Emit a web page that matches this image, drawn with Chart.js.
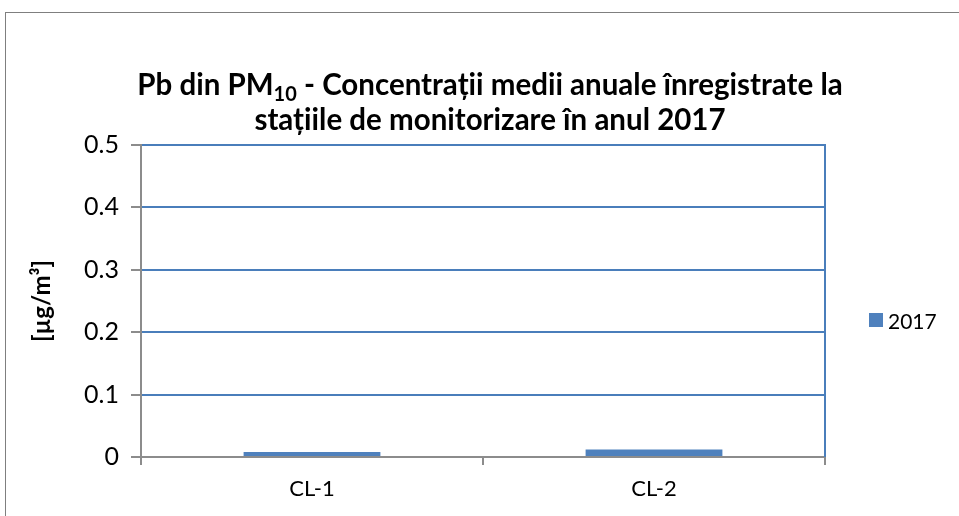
<!DOCTYPE html>
<html>
<head>
<meta charset="utf-8">
<script src="https://cdn.jsdelivr.net/npm/chart.js@4.4.1/dist/chart.umd.min.js"></script>
<style>
  html, body { margin: 0; padding: 0; background: #fff; }
  #wrap { position: relative; width: 959px; height: 516px; overflow: hidden; }
  #frame { position: absolute; left: 5px; top: 12px; width: 1000px; height: 600px; border: 1px solid #7f7f7f; box-sizing: border-box; }
  canvas { position: absolute; left: 0; top: 0; }
</style>
</head>
<body>
<div id="wrap">
  <div id="frame"></div>
  <canvas id="c" width="959" height="516"></canvas>
</div>
<script>
const categories = ['CL-1', 'CL-2'];
const seriesLabel = '2017';
const values2017 = [0.008, 0.012];
const yTicks = [0, 0.1, 0.2, 0.3, 0.4, 0.5];
const titleLine1 = ['Pb din PM', '10', ' - Concentrații medii anuale înregistrate la'];
const titleLine2 = 'stațiile de monitorizare în anul 2017';
const yTitle = '[µg/m³]';

const FONT = 'Lato, "Open Sans", "Liberation Sans", sans-serif';
const BAR = '#4f81bd';
const GRID = '#4a7ebb';
const AXIS = '#8c8c8c';

const decor = {
  id: 'decor',
  beforeDatasetsDraw(chart) {
    const {ctx, chartArea} = chart;
    ctx.save();
    ctx.strokeStyle = GRID;
    ctx.lineWidth = 2;
    ctx.beginPath();
    ctx.moveTo(Math.round(chartArea.right), chartArea.top - 1);
    ctx.lineTo(Math.round(chartArea.right), chartArea.bottom);
    ctx.stroke();
    ctx.restore();
  },
  afterDraw(chart) {
    const {ctx} = chart;
    ctx.save();
    ctx.fillStyle = '#000';
    ctx.textBaseline = 'alphabetic';
    const big = 'bold 29.5px ' + FONT;
    const small = 'bold 20px ' + FONT;
    ctx.font = big;
    const w0 = ctx.measureText(titleLine1[0]).width;
    const w2 = ctx.measureText(titleLine1[2]).width;
    ctx.font = small;
    const w1 = ctx.measureText(titleLine1[1]).width;
    const cx = 490;
    let x = cx - (w0 + w1 + w2) / 2;
    ctx.textAlign = 'left';
    ctx.font = big; ctx.fillText(titleLine1[0], x, 95); x += w0;
    ctx.font = small; ctx.fillText(titleLine1[1], x, 101); x += w1;
    ctx.font = big; ctx.fillText(titleLine1[2], x, 95);
    ctx.textAlign = 'center';
    ctx.fillText(titleLine2, cx, 130);
    // legend
    const ds = chart.data.datasets[0];
    ctx.fillStyle = ds.backgroundColor;
    ctx.fillRect(869, 313, 14, 14);
    ctx.fillStyle = '#000';
    ctx.textAlign = 'left';
    ctx.font = '21px ' + FONT;
    ctx.fillText(ds.label, 888, 329);
    ctx.restore();
  }
};

new Chart(document.getElementById('c'), {
  type: 'bar',
  data: {
    labels: categories,
    datasets: [{
      label: seriesLabel,
      data: values2017,
      backgroundColor: BAR,
      borderWidth: 0,
      categoryPercentage: 1,
      barPercentage: 0.4
    }]
  },
  options: {
    responsive: false,
    animation: false,
    events: [],
    layout: { padding: { top: 145, right: 134, bottom: 0, left: 28 } },
    plugins: { legend: { display: false }, title: { display: false }, tooltip: { enabled: false } },
    scales: {
      x: {
        afterFit(s) { s.height = 59; },
        grid: { drawOnChartArea: false, offset: true, color: AXIS, tickColor: AXIS, tickLength: 8, lineWidth: 2 },
        border: { color: AXIS, width: 2 },
        ticks: { color: '#000', font: { family: FONT, size: 22 }, padding: 11 }
      },
      y: {
        min: 0, max: 0.5,
        afterFit(s) { s.width = 141 - 28; },
        afterBuildTicks(s) { s.ticks = yTicks.map(v => ({ value: v })); },
        grid: {
          color: c => (c.index === 0 ? AXIS : GRID),
          tickColor: AXIS, tickLength: 10, lineWidth: 2
        },
        border: { color: AXIS, width: 2 },
        ticks: {
          color: '#000', font: { family: FONT, size: 25 }, padding: 12,
          callback: v => String(v)
        },
        title: { display: true, text: yTitle, color: '#000', font: { family: FONT, size: 24, weight: 'bold' }, padding: 0 }
      }
    }
  },
  plugins: [decor]
});
</script>
</body>
</html>
